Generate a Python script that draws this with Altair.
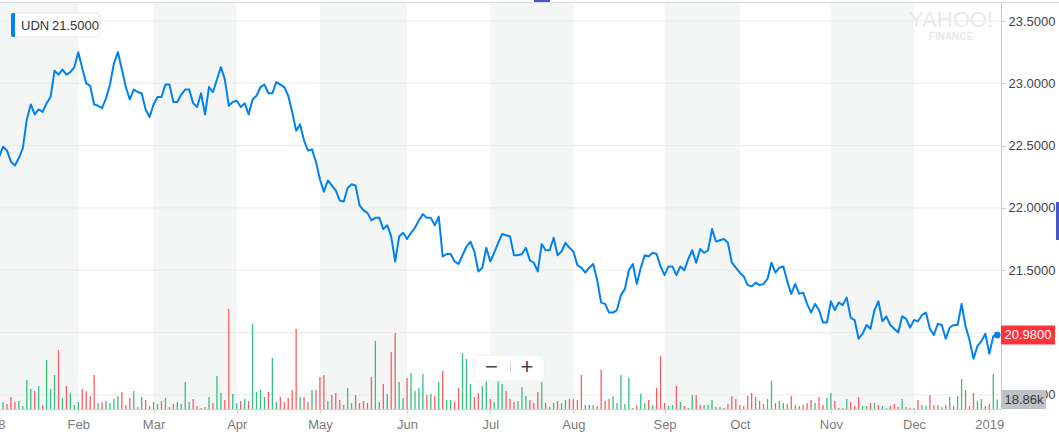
import altair as alt
import pandas as pd

# ---------------- data ----------------
# closing price per trading day (t = 1 is 3 Jan 2018, t = 253 is 4 Jan 2019)
price = [
    22.41, 22.49, 22.46, 22.37, 22.34, 22.40, 22.48, 22.71, 22.83, 22.75,
    22.79, 22.77, 22.84, 22.89, 23.10, 23.07, 23.11, 23.07, 23.09, 23.13,
    23.25, 23.12, 23.00, 22.98, 22.83, 22.82, 22.80, 22.88, 22.99, 23.16,
    23.25, 23.11, 22.97, 22.87, 22.95, 22.93, 22.92, 22.79, 22.73, 22.83,
    22.89, 22.89, 22.99, 22.99, 22.85, 22.85, 22.91, 22.95, 22.95, 22.84,
    22.81, 22.92, 22.75, 22.97, 22.93, 23.03, 23.13, 23.03, 22.82, 22.85,
    22.86, 22.81, 22.84, 22.75, 22.87, 22.90, 22.97, 22.99, 22.92, 22.92,
    23.01, 22.99, 22.97, 22.90, 22.77, 22.62, 22.67, 22.54, 22.46, 22.47,
    22.37, 22.23, 22.13, 22.22, 22.18, 22.14, 22.06, 22.05, 22.16, 22.19,
    22.18, 22.02, 21.98, 21.96, 21.90, 21.92, 21.92, 21.83, 21.86, 21.77,
    21.57, 21.77, 21.80, 21.75, 21.80, 21.84, 21.90, 21.95, 21.92, 21.92,
    21.86, 21.93, 21.61, 21.63, 21.63, 21.57, 21.55, 21.62, 21.69, 21.73,
    21.65, 21.49, 21.52, 21.68, 21.57, 21.64, 21.72, 21.79, 21.78, 21.77,
    21.62, 21.62, 21.63, 21.68, 21.58, 21.56, 21.49, 21.71, 21.66, 21.66,
    21.76, 21.62, 21.65, 21.72, 21.68, 21.65, 21.54, 21.52, 21.48, 21.52,
    21.55, 21.42, 21.24, 21.23, 21.16, 21.16, 21.18, 21.30, 21.35, 21.50,
    21.55, 21.39, 21.52, 21.62, 21.61, 21.64, 21.63, 21.53, 21.46, 21.53,
    21.53, 21.46, 21.53, 21.50, 21.59, 21.66, 21.56, 21.67, 21.64, 21.66,
    21.83, 21.73, 21.74, 21.75, 21.72, 21.56, 21.52, 21.48, 21.45, 21.38,
    21.37, 21.40, 21.38, 21.39, 21.43, 21.56, 21.48, 21.52, 21.53, 21.41,
    21.31, 21.39, 21.31, 21.32, 21.23, 21.16, 21.23, 21.18, 21.08, 21.08,
    21.25, 21.18, 21.24, 21.22, 21.28, 21.12, 21.10, 20.95, 20.99, 21.06,
    21.03, 21.18, 21.25, 21.09, 21.13, 21.06, 21.03, 21.00, 21.13, 21.11,
    21.04, 21.10, 21.09, 21.14, 21.16, 21.03, 20.98, 21.07, 21.06, 20.95,
    21.04, 21.06, 21.06, 21.23, 21.05, 20.94, 20.79, 20.89, 20.93, 20.99,
    20.83, 20.97, 20.98,
]

# daily volume, thousands of shares
volume_k = [
    8,
    14, 10, 24, 14, 16, 6, 58, 40, 36, 46, 8, 98, 40, 68, 118, 22, 46, 32, 8, 14,
    40, 36, 26, 68, 12, 14, 16, 12, 20, 26, 34, 8, 22, 36, 4, 24, 18, 6, 14, 10,
    16, 22, 4, 10, 14, 10, 54, 14, 20, 6, 2, 4, 24, 12, 66, 32, 18, 200, 30, 12,
    16, 20, 16, 170, 34,
    38, 24, 34, 102, 14, 24, 14, 22, 38, 160, 24, 24, 14, 38, 38, 64, 68, 16, 28, 32,
    18, 8, 42, 12, 28, 12, 16, 12, 64, 136, 14, 50, 30, 114, 152, 54, 22, 62, 72, 36,
    42, 70, 28, 30, 26, 54, 76, 18, 18, 14, 42, 112, 100, 50, 24, 32, 46, 58, 20, 14,
    58, 50, 36,
    20, 14, 16, 44, 26, 18, 12, 34, 54, 12, 4, 12, 16, 12, 18, 20, 20, 18, 68, 8,
    8, 8, 6, 78, 16, 20, 26, 12, 68, 10, 62, 2, 8, 30, 12, 18, 8, 42, 106, 12,
    6, 8, 46, 14, 6, 2, 28, 28, 8, 8, 8, 18, 4, 4, 2, 10, 26, 20, 8, 6,
    26, 32, 24,
    16, 10, 20, 56, 12, 16, 12, 10, 26, 8, 6, 8, 12, 18, 12, 24, 8, 22, 32, 16,
    2, 2, 20, 14, 6, 24, 6, 6, 12, 12, 8, 6, 2, 6, 10, 4, 20, 4, 2, 2,
    18, 8, 6, 28, 8, 8, 4, 8, 24, 6, 26, 60, 38, 6, 32, 16, 20, 6, 10, 70,
    18.86,
]

# bar colour per day: g = up (green), r = down (red)
direction = (
    "g"
    "grrrggggrgrgggrgrgggrrrrgrggggrrrgrgrrggrggrggggrrgrgrggrrggrgrgg"
    "ggrggrrrrrgrrgrrrgrrrgggrrrrrggrgrrggrggggrgrgrggrrgggrrggrgggr"
    "rrgggrrrgrggrggrrrrrggrrrrggggggrggrgrrrggrgrggrrgggrggrrrrrrrg"
    "rrggrggrrgrrrrgrrggrgrgrrrggrgrggrrrgrrgrggrrgrrgrggrrrggrrg"
    "g"
)

month_ticks = [21, 40, 61, 82, 104, 125, 146, 169, 188, 211, 232, 251]
month_labels = ["Feb", "Mar", "Apr", "May", "Jun", "Jul", "Aug", "Sep",
                "Oct", "Nov", "Dec", "2019"]
first_label_t = [0]
first_label = ["2018"]
band_start = [0, 40, 82, 125, 169, 211]
band_end = [21, 61, 104, 146, 188, 232]
price_levels = [20.5, 21.0, 21.5, 22.0, 22.5, 23.0, 23.5]
legend_text = ["UDN", "21.5000"]

# ---------------- tables ----------------
days = list(range(1, len(price) + 1))
df = pd.DataFrame({"t": days, "price": price, "vol": volume_k, "dir": list(direction)})
bands = pd.DataFrame({"s": band_start, "e": band_end})
levels = pd.DataFrame({"level": price_levels})
last = pd.DataFrame({"t": [days[-1]], "price": [price[-1]],
                     "label": [f"{price[-1]:.4f}"]})
vlast = pd.DataFrame({"vol": [volume_k[-1]], "label": [f"{volume_k[-1]:.2f}k"]})
yr = pd.DataFrame({"t": first_label_t, "label": first_label})
one = pd.DataFrame({"k": [0]})

W, H = 1001, 407
FONT = "Liberation Sans"
BLUE = "#0081f2"

XS = alt.Scale(domain=[1.232, 253.95], nice=False, zero=False)
YS = alt.Scale(domain=[20.386, 23.6525], nice=False, zero=False)
VS = alt.Scale(domain=[0, 814], nice=False, zero=True)

labels_js = "[" + ",".join(f"'{m}'" for m in month_labels) + "]"
ticks_js = "[" + ",".join(str(v) for v in month_ticks) + "]"

x_axis = alt.Axis(
    values=month_ticks, labelExpr=f"{labels_js}[indexof({ticks_js}, datum.value)]",
    title=None, grid=False, domainColor="#d2d2d2", tickColor="#cfcfcf", tickSize=4,
    labelColor="#7b7b7b", labelFontSize=13, labelFont=FONT, labelPadding=5,
    labelFlush=False, labelOverlap=False,
)
y_axis = alt.Axis(
    orient="right", values=price_levels, format=".4f", title=None, grid=False,
    domainColor="#c9c9c9", tickColor="#c9c9c9", tickSize=4, labelPadding=3,
    labelColor="#444444", labelFontSize=13, labelFont=FONT,
)

band_layer = alt.Chart(bands).mark_rect(color="#f4f6f6", clip=True).encode(
    x=alt.X("s:Q", scale=XS, axis=x_axis), x2="e:Q")

grid_layer = alt.Chart(levels).mark_rule(color="#ebebeb", strokeWidth=1).encode(
    y=alt.Y("level:Q", scale=YS, axis=None))

vol_layer = alt.Chart(df).mark_rule(strokeWidth=1.3, clip=True).encode(
    x=alt.X("t:Q", scale=XS, axis=x_axis),
    y=alt.Y("vol:Q", scale=VS, axis=None),
    y2=alt.datum(0),
    color=alt.Color("dir:N", scale=alt.Scale(domain=["g", "r"],
                                             range=["#35bf83", "#fd5b5f"]), legend=None),
)

line_layer = alt.Chart(df).mark_line(color=BLUE, strokeWidth=2, clip=True,
                                     strokeJoin="round").encode(
    x=alt.X("t:Q", scale=XS, axis=x_axis),
    y=alt.Y("price:Q", scale=YS, axis=y_axis),
)

dot_layer = alt.Chart(last).mark_point(filled=True, size=45, color=BLUE, opacity=1).encode(
    x=alt.X("t:Q", scale=XS, axis=x_axis), y=alt.Y("price:Q", scale=YS, axis=None))

yr_layer = alt.Chart(yr).mark_text(font=FONT, fontSize=13, color="#7b7b7b",
                                   baseline="middle", dx=-4).encode(
    x=alt.X("t:Q", scale=XS, axis=x_axis), y=alt.value(423), text="label:N")

tag_rule = alt.Chart(last).mark_rule(color="#ff333a", strokeWidth=19, strokeCap="butt").encode(
    x=alt.value(1001), x2=alt.value(1055), y=alt.Y("price:Q", scale=YS, axis=None))
tag_text = alt.Chart(last).mark_text(font=FONT, fontSize=13, color="white",
                                     baseline="middle", align="center").encode(
    x=alt.value(1028), y=alt.Y("price:Q", scale=YS, axis=None), text="label:N")

vtag_rule = alt.Chart(vlast).mark_rule(color="#bec1c6", strokeWidth=19, strokeCap="butt").encode(
    x=alt.value(1001), x2=alt.value(1046), y=alt.Y("vol:Q", scale=VS, axis=None))
vtag_text = alt.Chart(vlast).mark_text(font=FONT, fontSize=13, color="#3a3a3a",
                                       baseline="middle", align="center").encode(
    x=alt.value(1024), y=alt.Y("vol:Q", scale=VS, axis=None), text="label:N")

# ---------------- interface decorations ----------------
top_line = alt.Chart(one).mark_rule(color="#dcdce8", strokeWidth=1).encode(
    x=alt.value(0), x2=alt.value(1059), y=alt.value(0.5))
top_handle = alt.Chart(one).mark_rect(color="#4a55c6").encode(
    x=alt.value(534), x2=alt.value(550), y=alt.value(-2), y2=alt.value(0))
side_handle = alt.Chart(one).mark_rect(color="#4a55c6").encode(
    x=alt.value(1056), x2=alt.value(1059), y=alt.value(200), y2=alt.value(238))

legend_box = alt.Chart(one).mark_rect(fill="white", cornerRadius=4, stroke="#e6e6e6",
                                      strokeWidth=1).encode(
    x=alt.value(11), x2=alt.value(100), y=alt.value(11), y2=alt.value(35))
legend_bar = alt.Chart(one).mark_rect(fill=BLUE, cornerRadiusTopLeft=4,
                                      cornerRadiusBottomLeft=4).encode(
    x=alt.value(11), x2=alt.value(15), y=alt.value(11), y2=alt.value(35))
legend_t1 = alt.Chart(one).mark_text(font=FONT, fontSize=13, color="#333333", align="left",
                                     baseline="middle", text=legend_text[0]).encode(
    x=alt.value(21), y=alt.value(23.5))
legend_t2 = alt.Chart(one).mark_text(font=FONT, fontSize=13, color="#333333", align="left",
                                     baseline="middle", text=legend_text[1]).encode(
    x=alt.value(52), y=alt.value(23.5))

wm1 = alt.Chart(one).mark_text(font=FONT, fontSize=22, color="#e9e9e9", align="center",
                               baseline="alphabetic", text="YAHOO!").encode(
    x=alt.value(951), y=alt.value(25))
wm2 = alt.Chart(one).mark_text(font=FONT, fontSize=10, fontWeight="bold", color="#e9e9e9",
                               align="center", baseline="alphabetic", text="FINANCE").encode(
    x=alt.value(951), y=alt.value(38))

zoom_box = alt.Chart(one).mark_rect(fill="white", fillOpacity=0.92, cornerRadius=4,
                                    stroke="#eeeeee", strokeWidth=1).encode(
    x=alt.value(474), x2=alt.value(544), y=alt.value(353), y2=alt.value(379))
zoom_div = alt.Chart(one).mark_rule(color="#d4d4d4", strokeWidth=1).encode(
    x=alt.value(510.5), y=alt.value(360), y2=alt.value(371))
zoom_minus = alt.Chart(one).mark_text(font=FONT, fontSize=22, color="#444444", align="center",
                                      baseline="middle", text="\u2212").encode(
    x=alt.value(491.5), y=alt.value(365))
zoom_plus = alt.Chart(one).mark_text(font=FONT, fontSize=22, color="#444444", align="center",
                                     baseline="middle", text="+").encode(
    x=alt.value(527), y=alt.value(365))

chart = alt.layer(
    band_layer, grid_layer, vol_layer, line_layer, dot_layer, yr_layer,
    tag_rule, tag_text, vtag_rule, vtag_text,
    top_line, top_handle, side_handle,
    legend_box, legend_bar, legend_t1, legend_t2, wm1, wm2,
    zoom_box, zoom_div, zoom_minus, zoom_plus,
).resolve_scale(y="independent").properties(
    width=W, height=H,
    padding={"left": 0, "top": 2, "right": 58, "bottom": 25},
    autosize=alt.AutoSizeParams(type="none"),
    background="white",
).configure_view(stroke=None)

chart.save("out.html", embed_options={"renderer": "svg", "actions": False})
